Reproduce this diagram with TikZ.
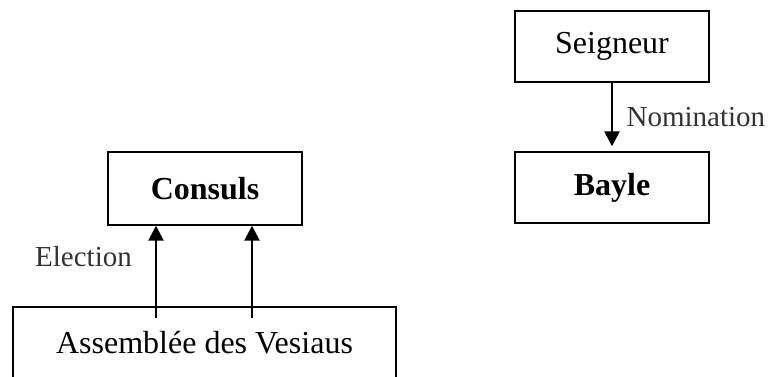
\documentclass[tikz,border=0pt]{standalone}
\usepackage{fontspec}
\setmainfont{Liberation Serif}
\usetikzlibrary{arrows.meta}

\begin{document}
\begin{tikzpicture}[x=1pt,y=-1pt,>={Triangle[width=15pt,length=15pt]},
  box/.style={draw,line width=1.4pt,minimum width=194pt,
  font=\fontsize{32}{38}\selectfont},
  lbl/.style={font=\fontsize{29}{34}\selectfont,text=black!80},
  edge/.style={->,line width=2.6pt}]
\useasboundingbox (0,0) rectangle (770,376);
\clip (0,0) rectangle (770,376);
\node[box,minimum height=71pt] (seigneur) at (612,46.5) {Seigneur};
\node[box,minimum height=71pt] (bayle) at (612,187.5) {\textbf{Bayle}};
\node[box,minimum height=73pt] (consuls) at (205,188.5) {\textbf{Consuls}};
\node[box,minimum width=383pt,minimum height=76pt] (assemblee) at (204.5,345)
  {\raisebox{5pt}{Assemblée des Vesiaus}};
\node[lbl] (election) at (83.5,257) {Election};
\coordinate (e1) at (156,318);
\coordinate (e2) at (252,318);
\draw[edge,shorten >=5pt] (seigneur)--node[lbl,right,xshift=10pt]{Nomination}(bayle);
\draw[edge] (e1)--(e1 |- consuls.south);
\draw[edge] (e2)--(e2 |- consuls.south);
\end{tikzpicture}
\end{document}
